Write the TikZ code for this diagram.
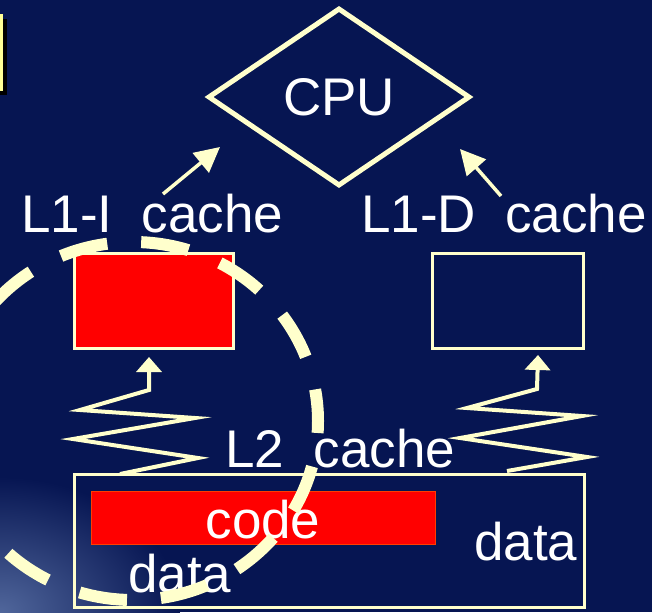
\documentclass[tikz,border=0pt]{standalone}
\usepackage{fontspec}
\setmainfont{Liberation Sans}
\usetikzlibrary{shapes.geometric,arrows.meta}

\definecolor{slide}{RGB}{6,21,82}
\definecolor{slidelit}{RGB}{80,102,155}
\definecolor{chalk}{RGB}{255,255,204}
\definecolor{tab}{RGB}{255,255,150}
\definecolor{hot}{RGB}{255,0,0}
\definecolor{hotrim}{RGB}{255,60,0}

\tikzset{
  lbl/.style={text=white,inner sep=0pt,font=\fontsize{53}{60}\selectfont},
  cpubox/.style={diamond,draw=chalk,line width=5pt,inner sep=0pt,
    minimum width=262pt,minimum height=178pt,text=white,font=\fontsize{53}{60}\selectfont},
  cachebox/.style={draw=chalk,line width=3pt,inner sep=0pt},
  hop/.style={draw=chalk,line width=3.5pt,-{Triangle[length=25pt,width=25pt]}},
  zig/.style={draw=chalk,line width=4pt,line join=miter,-{Triangle[length=15pt,width=25pt]}},
  ring/.style={draw=chalk,line width=12pt,dash pattern=on 48pt off 34pt,dash phase=36pt}
}

\begin{document}
\begin{tikzpicture}[x=1pt,y=-1pt] % one unit = one pixel, y runs down
    \useasboundingbox (0,0) rectangle (652,612);
    \clip (0,0) rectangle (652,612);
    \fill[slide] (0,0) rectangle (652,612);
    \shade[inner color=slidelit,outer color=slide] (0,612) ellipse (180 and 135);

    % tab sticking in from the left edge
    \fill[black] (-20,19) rectangle (7,95);
    \fill[tab] (-20,14) rectangle (3,91);

    % CPU and the three caches
    \node[cpubox] (cpu) at (339,97) {CPU};
    \node[cachebox,fill=hot,minimum width=159pt,minimum height=95pt] (l1i) at (154,300.5) {};
    \node[cachebox,minimum width=151pt,minimum height=95pt] (l1d) at (508,300.5) {};
    \node[cachebox,minimum width=510pt,minimum height=133pt] (l2) at (329.5,541) {};
    \node[draw=hotrim,fill=hot,line width=1pt,inner sep=0pt,
          minimum width=344pt,minimum height=53pt] (code) at (263,517.5) {};

    \node[lbl,anchor=base west] (l1ilbl) at (21,233) {L1-I\ \ cache};
    \node[lbl,anchor=base west] (l1dlbl) at (361,233) {L1-D\ \ cache};
    \node[lbl,anchor=base west] (l2lbl) at (225,467) {L2\ \ cache};
    \node[lbl,anchor=base] (codelbl) at (263,538) {code};
    \node[lbl,anchor=base west] (datal) at (128,592) {data};
    \node[lbl,anchor=base west] (datar) at (474,560) {data};

    % fetch arrows up to the CPU
    \coordinate (itail) at (163,194);
    \coordinate (itip) at (220,147);
    \coordinate (dtail) at (501,196);
    \coordinate (dtip) at (460,149);
    \draw[hop] (itail) -- (itip);
    \draw[hop] (dtail) -- (dtip);

    % refills from L2, drawn as zigzags
    \coordinate (izig) at (149,357);
    \coordinate (dzig) at (538,355);
    \draw[zig] (120,474) -- (198,458) -- (73,439) -- (195,418) -- (80,410) -- (149,390) -- (izig);
    \draw[zig] (507,471) -- (587,457) -- (460,438) -- (582,416) -- (467,408) -- (537,389) -- (dzig);

    % dashed ring round the code path
    \draw[ring] (133,421) ellipse (185 and 179);
\end{tikzpicture}
\end{document}
